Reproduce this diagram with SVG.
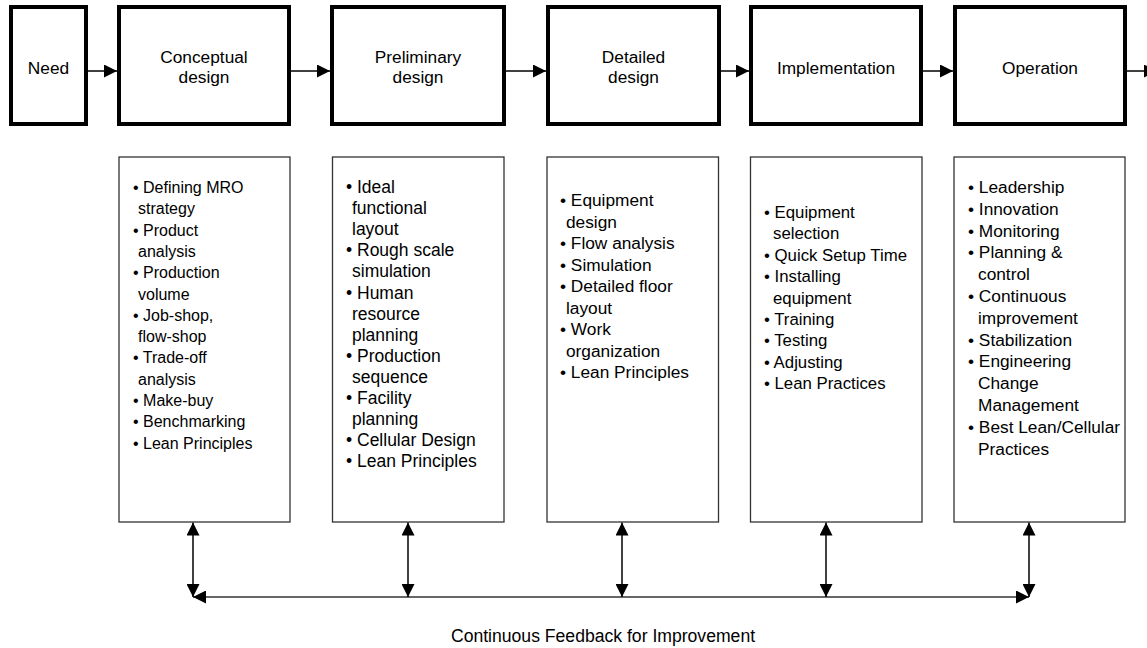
<svg xmlns="http://www.w3.org/2000/svg" width="1147" height="648" viewBox="0 0 1147 648">
  <style>
    .stage { fill: #ffffff; stroke: #000000; stroke-width: 4; }
    .panel { fill: #ffffff; stroke: #333333; stroke-width: 1.3; }
    .title { font-family: "Liberation Sans", Arial, sans-serif; font-size: 17.3px; fill: #000000; text-anchor: middle; }
    .list { font-family: "Liberation Sans", Arial, sans-serif; fill: #000000; }
    .flow { stroke: #000000; stroke-width: 1.5; fill: none; }
    .fb { stroke: #333333; stroke-width: 1.5; fill: none; }
    .caption { font-family: "Liberation Sans", Arial, sans-serif; font-size: 17.6px; fill: #000000; text-anchor: middle; }
  </style>
  <defs>
    <marker id="head" viewBox="0 0 13 13" refX="13" refY="6.5" markerWidth="13" markerHeight="13" markerUnits="userSpaceOnUse" orient="auto-start-reverse">
      <path d="M0,0 L13,6.5 L0,13 Z" fill="#000000"/>
    </marker>
  </defs>

  <rect width="1147" height="648" fill="#ffffff"/>

  <!-- lifecycle stages -->
  <g id="need">
    <rect class="stage" x="11" y="7" width="75" height="117"/>
    <text class="title" x="48.5" y="74">Need</text>
  </g>
  <g id="conceptual-design">
    <rect class="stage" x="119" y="7" width="170" height="117"/>
    <text class="title" x="204" y="63">Conceptual</text>
    <text class="title" x="204" y="82.5">design</text>
  </g>
  <g id="preliminary-design">
    <rect class="stage" x="332" y="7" width="172" height="117"/>
    <text class="title" x="418" y="63">Preliminary</text>
    <text class="title" x="418" y="82.5">design</text>
  </g>
  <g id="detailed-design">
    <rect class="stage" x="548" y="7" width="171" height="117"/>
    <text class="title" x="633.5" y="63">Detailed</text>
    <text class="title" x="633.5" y="82.5">design</text>
  </g>
  <g id="implementation">
    <rect class="stage" x="751" y="7" width="170" height="117"/>
    <text class="title" x="836" y="74">Implementation</text>
  </g>
  <g id="operation">
    <rect class="stage" x="955" y="7" width="170" height="117"/>
    <text class="title" x="1040" y="74">Operation</text>
  </g>

  <!-- activity panels -->
  <g id="conceptual-activities">
    <rect class="panel" x="119" y="157" width="171" height="365"/>
    <text class="list" font-size="16px">
      <tspan x="133" y="193">• Defining MRO</tspan>
      <tspan x="138" dy="21.3">strategy</tspan>
      <tspan x="133" dy="21.3">• Product</tspan>
      <tspan x="138" dy="21.3">analysis</tspan>
      <tspan x="133" dy="21.3">• Production</tspan>
      <tspan x="138" dy="21.3">volume</tspan>
      <tspan x="133" dy="21.3">• Job-shop,</tspan>
      <tspan x="138" dy="21.3">flow-shop</tspan>
      <tspan x="133" dy="21.3">• Trade-off</tspan>
      <tspan x="138" dy="21.3">analysis</tspan>
      <tspan x="133" dy="21.3">• Make-buy</tspan>
      <tspan x="133" dy="21.3">• Benchmarking</tspan>
      <tspan x="133" dy="21.3">• Lean Principles</tspan>
    </text>
  </g>
  <g id="preliminary-activities">
    <rect class="panel" x="332.5" y="157" width="171.5" height="365"/>
    <text class="list" font-size="17.5px">
      <tspan x="346" y="193">• Ideal</tspan>
      <tspan x="352" dy="21.1">functional</tspan>
      <tspan x="352" dy="21.1">layout</tspan>
      <tspan x="346" dy="21.1">• Rough scale</tspan>
      <tspan x="352" dy="21.1">simulation</tspan>
      <tspan x="346" dy="21.1">• Human</tspan>
      <tspan x="352" dy="21.1">resource</tspan>
      <tspan x="352" dy="21.1">planning</tspan>
      <tspan x="346" dy="21.1">• Production</tspan>
      <tspan x="352" dy="21.1">sequence</tspan>
      <tspan x="346" dy="21.1">• Facility</tspan>
      <tspan x="352" dy="21.1">planning</tspan>
      <tspan x="346" dy="21.1">• Cellular Design</tspan>
      <tspan x="346" dy="21.1">• Lean Principles</tspan>
    </text>
  </g>
  <g id="detailed-activities">
    <rect class="panel" x="547" y="157" width="171.5" height="365"/>
    <text class="list" font-size="17.3px">
      <tspan x="560" y="206">• Equipment</tspan>
      <tspan x="566" dy="21.5">design</tspan>
      <tspan x="560" dy="21.5">• Flow analysis</tspan>
      <tspan x="560" dy="21.5">• Simulation</tspan>
      <tspan x="560" dy="21.5">• Detailed floor</tspan>
      <tspan x="566" dy="21.5">layout</tspan>
      <tspan x="560" dy="21.5">• Work</tspan>
      <tspan x="566" dy="21.5">organization</tspan>
      <tspan x="560" dy="21.5">• Lean Principles</tspan>
    </text>
  </g>
  <g id="implementation-activities">
    <rect class="panel" x="750.5" y="157" width="171.5" height="365"/>
    <text class="list" font-size="16.8px">
      <tspan x="764" y="218">• Equipment</tspan>
      <tspan x="773" dy="21.4">selection</tspan>
      <tspan x="764" dy="21.4">• Quick Setup Time</tspan>
      <tspan x="764" dy="21.4">• Installing</tspan>
      <tspan x="773" dy="21.4">equipment</tspan>
      <tspan x="764" dy="21.4">• Training</tspan>
      <tspan x="764" dy="21.4">• Testing</tspan>
      <tspan x="764" dy="21.4">• Adjusting</tspan>
      <tspan x="764" dy="21.4">• Lean Practices</tspan>
    </text>
  </g>
  <g id="operation-activities">
    <rect class="panel" x="954" y="157" width="171" height="365"/>
    <text class="list" font-size="17.3px">
      <tspan x="968" y="193">• Leadership</tspan>
      <tspan x="968" dy="21.8">• Innovation</tspan>
      <tspan x="968" dy="21.8">• Monitoring</tspan>
      <tspan x="968" dy="21.8">• Planning &amp;</tspan>
      <tspan x="978" dy="21.8">control</tspan>
      <tspan x="968" dy="21.8">• Continuous</tspan>
      <tspan x="978" dy="21.8">improvement</tspan>
      <tspan x="968" dy="21.8">• Stabilization</tspan>
      <tspan x="968" dy="21.8">• Engineering</tspan>
      <tspan x="978" dy="21.8">Change</tspan>
      <tspan x="978" dy="21.8">Management</tspan>
      <tspan x="968" dy="21.8">• Best Lean/Cellular</tspan>
      <tspan x="978" dy="21.8">Practices</tspan>
    </text>
  </g>

  <!-- connectors -->
  <g id="connectors">
    <line class="flow" x1="88" y1="71" x2="117" y2="71" marker-end="url(#head)"/>
    <line class="flow" x1="291" y1="71" x2="330" y2="71" marker-end="url(#head)"/>
    <line class="flow" x1="506" y1="71" x2="546" y2="71" marker-end="url(#head)"/>
    <line class="flow" x1="721" y1="71" x2="749" y2="71" marker-end="url(#head)"/>
    <line class="flow" x1="923" y1="71" x2="953" y2="71" marker-end="url(#head)"/>
    <line class="flow" x1="1127" y1="71" x2="1157" y2="71" marker-end="url(#head)"/>

    <line class="fb" x1="193" y1="597" x2="1029" y2="597" marker-start="url(#head)" marker-end="url(#head)"/>
    <line class="flow" x1="193" y1="522.5" x2="193" y2="597" marker-start="url(#head)" marker-end="url(#head)"/>
    <line class="flow" x1="408" y1="522.5" x2="408" y2="597" marker-start="url(#head)" marker-end="url(#head)"/>
    <line class="flow" x1="622" y1="522.5" x2="622" y2="597" marker-start="url(#head)" marker-end="url(#head)"/>
    <line class="flow" x1="826" y1="522.5" x2="826" y2="597" marker-start="url(#head)" marker-end="url(#head)"/>
    <line class="flow" x1="1029" y1="522.5" x2="1029" y2="597" marker-start="url(#head)" marker-end="url(#head)"/>
  </g>

  <text class="caption" x="603" y="642">Continuous Feedback for Improvement</text>
</svg>
